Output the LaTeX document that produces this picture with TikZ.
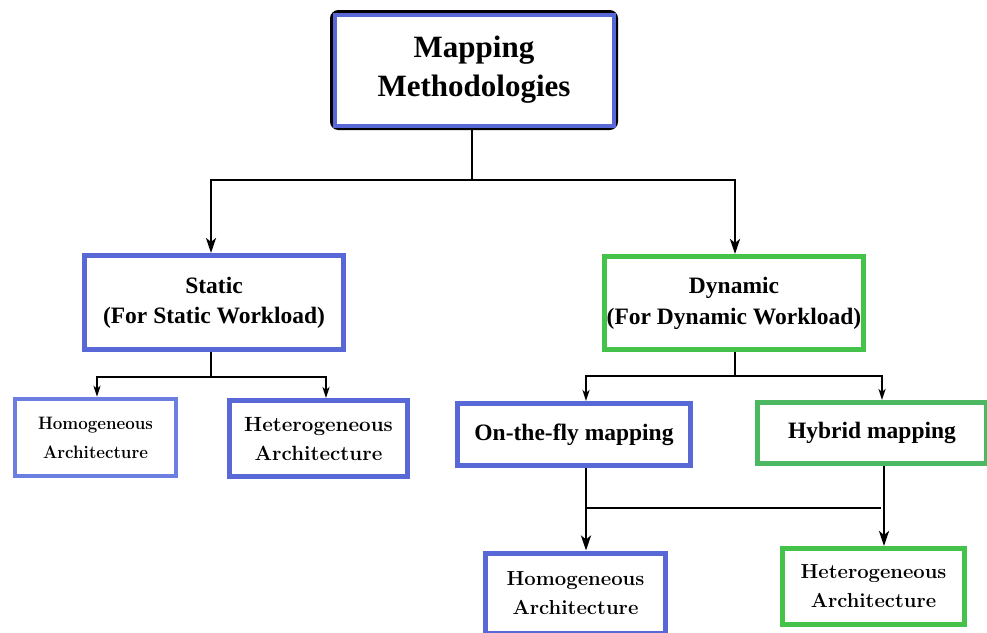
\documentclass[tikz,border=0pt]{standalone}
\usepackage{fontspec}
\usepackage{graphicx}
\newfontfamily\tnr{Liberation Serif}
\usetikzlibrary{arrows.meta}
\definecolor{bl}{RGB}{88,104,214}
\definecolor{lbl}{RGB}{108,126,224}
\definecolor{gr}{RGB}{68,194,74}
\definecolor{gr2}{RGB}{76,184,98}
\begin{document}
\begin{tikzpicture}[x=1pt,y=-1pt,
  box/.style={draw, rectangle, inner sep=0pt, align=center, text=black},
  lmtext/.style={font=\bfseries\fontsize{#1}{29}\selectfont},
  conn/.style={line width=2.6pt, black},
  arr/.style={conn, -{Stealth[length=15pt,width=10pt,inset=4pt]}},
  sconn/.style={line width=2pt, black},
  sarr/.style={sconn, -{Stealth[length=11pt,width=7pt,inset=3pt]}},
]
\useasboundingbox (0,0) rectangle (987,632);

% top node
\node[box, draw=black, line width=5pt, rounded corners=6pt, minimum width=283pt, minimum height=115pt,
      font=\tnr\bfseries\fontsize{31}{39}\selectfont] (top) at (474,70) {Mapping\\Methodologies};
\draw[bl, line width=4pt] ([shift={(4.5pt,-4.5pt)}]top.north west) rectangle ([shift={(-4.5pt,4.5pt)}]top.south east);

% level 2
\node[box, draw=bl, line width=5pt, minimum width=259pt, minimum height=94pt,
      font=\tnr\bfseries\fontsize{23.5}{30}\selectfont] (st) at (214,302.5) {Static\\(For Static Workload)};
\node[box, draw=gr, line width=5pt, minimum width=259pt, minimum height=93pt,
      font=\tnr\bfseries\fontsize{23.5}{31}\selectfont] (dy) at (734,303) {Dynamic\\(For Dynamic Workload)};

% static children
\node[box, draw=lbl, line width=4.5pt, minimum width=161pt, minimum height=77pt, lmtext=18] (hm) at (95.5,437.5)
      {\scalebox{0.94}[1]{Homogeneous}\\\scalebox{0.94}[1]{Architecture}};
\node[box, draw=bl, line width=5pt, minimum width=178pt, minimum height=76pt, lmtext=20.6] (ht) at (318.5,438.5)
      {Heterogeneous\\Architecture};

% dynamic children
\node[box, draw=bl, line width=5pt, minimum width=233pt, minimum height=62pt,
      font=\tnr\bfseries\fontsize{23.5}{28}\selectfont] (of) at (574,434.5) {On-the-fly mapping};
\node[box, draw=gr2, line width=5pt, minimum width=229pt, minimum height=61pt,
      font=\tnr\bfseries\fontsize{23.5}{28}\selectfont] (hy) at (872,433) {Hybrid mapping};

% bottom
\node[box, draw=bl, line width=5pt, minimum width=180pt, minimum height=80pt, lmtext=20.3] (bh) at (575.5,593)
      {Homogeneous\\Architecture};
\node[box, draw=gr, line width=5pt, minimum width=182pt, minimum height=76pt, lmtext=20.2] (bt) at (873.5,586.5)
      {Heterogeneous\\Architecture};

% connectors
\coordinate (j1) at (472,180);
\draw[conn] ([xshift=-2pt]top.south) -- (j1);
\draw[arr] (j1) -| ([xshift=-3pt]st.north);
\draw[arr] (j1) -| ([xshift=1pt]dy.north);

\coordinate (j2) at (211,377);
\draw[sconn] ([xshift=-3pt]st.south) -- (j2);
\draw[sarr] (j2) -| ([xshift=1.5pt]hm.north);
\draw[sarr] (j2) -| ([xshift=7.5pt]ht.north);

\coordinate (j3) at (735,376);
\draw[sconn] ([xshift=1pt]dy.south) -- (j3);
\draw[sarr] (j3) -| ([xshift=12pt]of.north);
\draw[sarr] (j3) -| ([xshift=10pt]hy.north);

\draw[arr] ([xshift=12pt]of.south) -- ([xshift=12pt]of.south |- bh.north);
\draw[arr] ([xshift=12pt]hy.south) -- ([xshift=12pt]hy.south |- bt.north);
\draw[conn] ([xshift=12pt]of.south |- 0,508) -- ([xshift=9pt]hy.south |- 0,508);
\end{tikzpicture}
\end{document}
